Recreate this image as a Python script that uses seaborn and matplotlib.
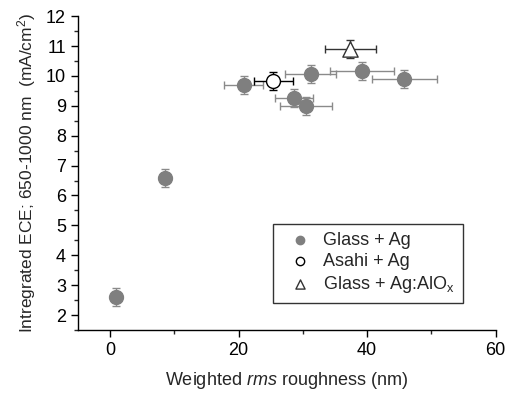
import matplotlib
matplotlib.use("Agg")
import matplotlib.pyplot as plt
import seaborn as sns
import pandas as pd
from matplotlib.ticker import MultipleLocator

sns.set_theme(style="ticks")
plt.rcParams['font.family'] = ['Liberation Sans', 'DejaVu Sans']
plt.rcParams['mathtext.fontset'] = 'custom'
plt.rcParams['mathtext.rm'] = 'Liberation Sans'
plt.rcParams['mathtext.it'] = 'Liberation Sans:italic'

# Glass + Ag
glass_x = [1.0, 8.5, 20.8, 28.6, 30.5, 31.2, 39.2, 45.8]
glass_y = [2.6, 6.6, 9.7, 9.25, 8.98, 10.05, 10.18, 9.9]
glass_xerr = [0, 0, 3, 3, 4, 4, 5, 5]
glass_yerr = [0.3, 0.3, 0.3, 0.3, 0.3, 0.3, 0.3, 0.3]
# Asahi + Ag
asahi_x = [25.4]
asahi_y = [9.83]
asahi_xerr = [3]
asahi_yerr = [0.3]
# Glass + Ag:AlOx
alox_x = [37.4]
alox_y = [10.9]
alox_xerr = [4]
alox_yerr = [0.3]

labels = ["Glass + Ag", "Asahi + Ag", "Glass + Ag:AlO$_\\mathrm{x}$"]

df = pd.DataFrame({
    "x": glass_x + asahi_x + alox_x,
    "y": glass_y + asahi_y + alox_y,
    "xerr": glass_xerr + asahi_xerr + alox_xerr,
    "yerr": glass_yerr + asahi_yerr + alox_yerr,
    "group": [labels[0]] * len(glass_x) + [labels[1]] * len(asahi_x) + [labels[2]] * len(alox_x),
})

fig = plt.figure(figsize=(5.10, 3.94), dpi=100)
ax = fig.add_axes([0.1525, 0.1625, 0.8195, 0.7965])

styles = {
    labels[0]: dict(marker="o", fc="#7f7f7f", ec="#7f7f7f", ecolor="#8a8a8a", size=10),
    labels[1]: dict(marker="o", fc="white", ec="black", ecolor="black", size=10),
    labels[2]: dict(marker="^", fc="white", ec="#333333", ecolor="#333333", size=11),
}

for g in labels:
    sub = df[df.group == g]
    st = styles[g]
    ax.errorbar(sub.x, sub.y, xerr=sub.xerr, yerr=sub.yerr, fmt="none",
                ecolor=st["ecolor"], elinewidth=1.0, capsize=3, capthick=1.0, zorder=2)
    sns.scatterplot(data=sub, x="x", y="y", ax=ax, marker=st["marker"],
                    s=st["size"] ** 2, color=st["fc"], edgecolor=st["ec"],
                    linewidth=1.0, label=g, zorder=3)

ax.set_xlim(-5, 60)
ax.set_ylim(1.5, 12)
ax.xaxis.set_major_locator(MultipleLocator(20))
ax.xaxis.set_minor_locator(MultipleLocator(10))
ax.yaxis.set_major_locator(MultipleLocator(1))
ax.yaxis.set_minor_locator(MultipleLocator(0.5))
ax.tick_params(which="major", direction="out", length=5, width=1, labelsize=13, colors="black")
ax.tick_params(which="minor", direction="out", length=3, width=1)
ax.tick_params(axis="both", which="both", bottom=True, left=True)
for s in ["top", "right"]:
    ax.spines[s].set_visible(False)
for s in ["left", "bottom"]:
    ax.spines[s].set_color("black")
    ax.spines[s].set_linewidth(1)

ax.set_xlabel("Weighted $\\mathit{rms}$ roughness (nm)", fontsize=13, labelpad=8)
ax.set_ylabel("Intregrated ECE; 650-1000 nm  (mA/cm$^2$)", fontsize=12.5, labelpad=6)

leg = ax.legend(loc="lower right", bbox_to_anchor=(0.922, 0.086), borderaxespad=0,
                fontsize=13, frameon=True, fancybox=False, edgecolor="black",
                handletextpad=0.3, borderpad=0.45, labelspacing=0.22, markerscale=0.6)
leg.get_frame().set_linewidth(1)

fig.savefig("out.png", dpi=100)
